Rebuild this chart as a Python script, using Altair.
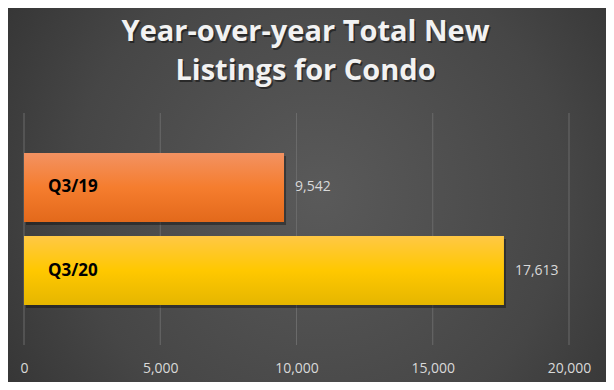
import altair as alt
import pandas as pd

categories = ["Q3/19", "Q3/20"]
values = [9542, 17613]
tick_values = [0, 5000, 10000, 15000, 20000]
title_lines = ["Year-over-year Total New", "Listings for Condo"]

df = pd.DataFrame({"period": categories, "listings": values})
ticks_df = pd.DataFrame({"tick": tick_values})

W, H = 545, 232
PAD = {"left": 16, "top": 105, "right": 37, "bottom": 37}
FONT = "Open Sans"

x_scale = alt.Scale(domain=[0, 20000], nice=False)
y_scale = alt.Scale(domain=categories, paddingInner=0.17, paddingOuter=0.48)
x_axis = alt.Axis(values=tick_values, format=",.0f", title=None, grid=False,
                  domain=False, ticks=False, labelColor="#d9d9d9",
                  labelFontSize=14, labelFont=FONT, labelPadding=16,
                  labelFlush=False, zindex=1)

bg_grad = alt.Gradient(
    gradient="radial",
    stops=[alt.GradientStop(color="#5a5a5a", offset=0),
           alt.GradientStop(color="#464646", offset=0.55),
           alt.GradientStop(color="#2b2b2b", offset=1)],
    x1=0.52, y1=0.5, r1=0, x2=0.52, y2=0.5, r2=0.75,
)

one = pd.DataFrame({"a": [0]})

background = alt.Chart(one).mark_rect(color=bg_grad).encode(
    x=alt.value(-PAD["left"]), x2=alt.value(W + PAD["right"]),
    y=alt.value(-PAD["top"]), y2=alt.value(H + PAD["bottom"]),
)

title_kw = dict(text=title_lines, align="center", baseline="alphabetic", lineHeight=39,
                fontSize=29, fontWeight="bold", font=FONT)

title_shadow = alt.Chart(one).mark_text(color="#000000", opacity=0.45, dx=1.5, dy=2,
                                        **title_kw).encode(
    x=alt.value(W / 2 + 9), y=alt.value(-72))

title_text = alt.Chart(one).mark_text(color="#f2f2f2", **title_kw).encode(
    x=alt.value(W / 2 + 9), y=alt.value(-72))

grid = alt.Chart(ticks_df).mark_rule(color="#6a6a6a", strokeWidth=1).encode(
    x=alt.X("tick:Q", scale=x_scale, axis=x_axis),
)

base = alt.Chart(df).encode(
    y=alt.Y("period:N", scale=y_scale, axis=None, sort=categories),
)

shadow = base.mark_bar(color="#000000", opacity=0.35, xOffset=2, yOffset=3).encode(
    x=alt.X("listings:Q", scale=x_scale, axis=x_axis),
)

orange = alt.Gradient(
    gradient="linear",
    stops=[alt.GradientStop(color="#f39262", offset=0),
           alt.GradientStop(color="#f57d2e", offset=0.5),
           alt.GradientStop(color="#e3691b", offset=1)],
    x1=0, y1=0, x2=0, y2=1,
)
yellow = alt.Gradient(
    gradient="linear",
    stops=[alt.GradientStop(color="#ffc845", offset=0),
           alt.GradientStop(color="#ffc800", offset=0.5),
           alt.GradientStop(color="#e5b600", offset=1)],
    x1=0, y1=0, x2=0, y2=1,
)

bar19 = base.transform_filter(alt.datum.period == categories[0]).mark_bar(color=orange).encode(
    x=alt.X("listings:Q", scale=x_scale, axis=x_axis),
)
bar20 = base.transform_filter(alt.datum.period == categories[1]).mark_bar(color=yellow).encode(
    x=alt.X("listings:Q", scale=x_scale, axis=x_axis),
)

value_labels = base.mark_text(align="left", baseline="middle", dx=11, color="#d9d9d9",
                              fontSize=14, font=FONT).encode(
    x=alt.X("listings:Q", scale=x_scale, axis=x_axis),
    text=alt.Text("listings:Q", format=","),
)

cat_labels = base.mark_text(align="left", baseline="middle", dx=24, color="#000000",
                            fontSize=17, fontWeight="bold", font=FONT).encode(
    x=alt.datum(0, type="quantitative", scale=x_scale, axis=x_axis),
    text="period:N",
)

chart = alt.layer(background, grid, shadow, bar19, bar20, value_labels, cat_labels,
                  title_shadow, title_text).properties(
    width=W, height=H,
    padding=PAD,
    autosize=alt.AutoSizeParams(type="none"),
).configure_view(stroke=None).configure(background="#ffffff")

chart.save("out.html", embed_options={"renderer": "svg", "actions": False})
